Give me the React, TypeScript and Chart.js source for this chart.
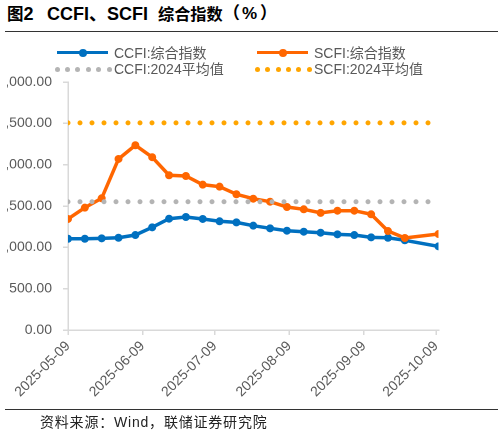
import React, { useEffect, useRef } from "react";
import { Chart, registerables } from "chart.js";

Chart.register(...registerables);

// ---------- data ----------
const dates = [
  "2025-05-09", "2025-05-16", "2025-05-23", "2025-05-30", "2025-06-06", "2025-06-13",
  "2025-06-20", "2025-06-27", "2025-07-04", "2025-07-11", "2025-07-18", "2025-07-25",
  "2025-08-01", "2025-08-08", "2025-08-15", "2025-08-22", "2025-08-29", "2025-09-05",
  "2025-09-12", "2025-09-19", "2025-09-26", "2025-10-10",
];
const ccfiValues = [
  1104, 1104, 1109, 1116, 1149, 1242, 1346, 1367, 1343, 1315, 1302, 1262,
  1230, 1201, 1189, 1177, 1157, 1149, 1121, 1116, 1085, 1012,
];
const scfiValues = [
  1343, 1480, 1593, 2069, 2235, 2090, 1872, 1863, 1758, 1734, 1642, 1588,
  1552, 1488, 1460, 1417, 1443, 1443, 1400, 1197, 1113, 1161,
];
const ccfiAvg2024 = 1551;
const scfiAvg2024 = 2506;
const xTickDates = ["2025-05-09", "2025-06-09", "2025-07-09", "2025-08-09", "2025-09-09", "2025-10-09"];
const yMin = 0;
const yMax = 3000;
const yStep = 500;
const seriesNames = ["CCFI:综合指数", "SCFI:综合指数", "CCFI:2024平均值", "SCFI:2024平均值"];
const titleParts = ["图", "2", "CCFI、SCFI", "综合指数", "（", "%", "）"];
const sourceText = "资料来源：Wind，联储证券研究院";

// ---------- styles ----------
const BLUE = "#0070C0";
const ORANGE = "#FF6600";
const GRAY_DOT = "#B4B4B4";
const ORANGE_DOT = "#FFA500";
const AXIS = "#D9D9D9";
const TEXT = "#595959";
const FONT = "'Liberation Sans', Arial, 'Noto Sans CJK SC', sans-serif";

const DAY_MS = 86400000;
function dayIndex(s: string): number {
  const [y, m, d] = s.split("-").map(Number);
  const [y0, m0, d0] = dates[0].split("-").map(Number);
  return Math.round((Date.UTC(y, m - 1, d) - Date.UTC(y0, m0 - 1, d0)) / DAY_MS);
}
const xMax = dayIndex(dates[dates.length - 1]);

function LegendLine({ color, left, top }: { color: string; left: number; top: number }) {
  return (
    <div style={{ position: "absolute", left, top: top - 1.75, width: 51, height: 3.5, background: color }}>
      <div
        style={{
          position: "absolute",
          left: 25.5 - 4,
          top: 1.75 - 4,
          width: 8,
          height: 8,
          borderRadius: 4,
          background: color,
        }}
      />
    </div>
  );
}

function LegendDots({ color, left, top }: { color: string; left: number; top: number }) {
  const dots = [0, 1, 2, 3, 4, 5];
  return (
    <div style={{ position: "absolute", left, top }}>
      {dots.map((i) => (
        <div
          key={i}
          style={{
            position: "absolute",
            left: i * 10.4 - 2.5,
            top: -2.5,
            width: 5,
            height: 5,
            borderRadius: 2.5,
            background: color,
          }}
        />
      ))}
    </div>
  );
}

function LegendText({ text, left, top }: { text: string; left: number; top: number }) {
  return (
    <div
      style={{
        position: "absolute",
        left,
        top: top - 9,
        height: 18,
        lineHeight: "18px",
        fontSize: 14,
        color: TEXT,
        whiteSpace: "nowrap",
        fontFamily: FONT,
      }}
    >
      {text}
    </div>
  );
}

function Part({ text, left, size }: { text: string; left: number; size: number }) {
  return (
    <span style={{ position: "absolute", left, bottom: 0, fontSize: size, lineHeight: "22px", whiteSpace: "pre" }}>
      {text}
    </span>
  );
}

export default function App() {
  const canvasRef = useRef<HTMLCanvasElement | null>(null);

  useEffect(() => {
    const canvas = canvasRef.current;
    if (!canvas) return;
    const x0 = dayIndex(dates[0]);
    const chart = new Chart(canvas, {
      type: "line",
      data: {
        datasets: [
          {
            label: seriesNames[0],
            data: dates.map((d, i) => ({ x: dayIndex(d), y: ccfiValues[i] })),
            borderColor: BLUE,
            backgroundColor: BLUE,
            borderWidth: 3.5,
            pointRadius: 4,
            pointHoverRadius: 4,
            pointBorderWidth: 0,
            tension: 0,
            order: 4,
          },
          {
            label: seriesNames[1],
            data: dates.map((d, i) => ({ x: dayIndex(d), y: scfiValues[i] })),
            borderColor: ORANGE,
            backgroundColor: ORANGE,
            borderWidth: 3.5,
            pointRadius: 4,
            pointHoverRadius: 4,
            pointBorderWidth: 0,
            tension: 0,
            order: 3,
          },
          {
            label: seriesNames[2],
            data: [
              { x: x0, y: ccfiAvg2024 },
              { x: xMax, y: ccfiAvg2024 },
            ],
            borderColor: GRAY_DOT,
            borderWidth: 5,
            borderDash: [0, 12],
            borderCapStyle: "round",
            pointRadius: 0,
            order: 2,
          },
          {
            label: seriesNames[3],
            data: [
              { x: x0, y: scfiAvg2024 },
              { x: xMax, y: scfiAvg2024 },
            ],
            borderColor: ORANGE_DOT,
            borderWidth: 5,
            borderDash: [0, 12],
            borderCapStyle: "round",
            pointRadius: 0,
            order: 1,
          },
        ],
      },
      options: {
        responsive: false,
        animation: false,
        devicePixelRatio: 2,
        layout: { padding: { top: 82, right: 65.5, bottom: 0, left: 0 } },
        plugins: {
          legend: { display: false },
          tooltip: { enabled: false },
          title: { display: false },
        },
        scales: {
          x: {
            type: "linear",
            min: x0,
            max: xMax,
            afterBuildTicks: (scale: any) => {
              scale.ticks = xTickDates.map((d) => ({ value: dayIndex(d) }));
            },
            afterFit: (scale: any) => {
              scale.height = 104;
            },
            ticks: {
              autoSkip: false,
              maxRotation: 45,
              minRotation: 45,
              padding: 3,
              color: TEXT,
              font: { size: 14, family: FONT },
              callback: (v: any) => {
                const idx = xTickDates.findIndex((d) => dayIndex(d) === v);
                return idx >= 0 ? xTickDates[idx] : "";
              },
            },
            grid: {
              drawOnChartArea: false,
              drawTicks: true,
              tickLength: 5,
              color: AXIS,
              lineWidth: 1.5,
            },
            border: { color: AXIS, width: 1.5 },
          },
          y: {
            min: yMin,
            max: yMax,
            afterFit: (scale: any) => {
              scale.width = 68;
            },
            ticks: {
              stepSize: yStep,
              padding: 11,
              color: TEXT,
              font: { size: 14, family: FONT },
              callback: (v: any) =>
                Number(v).toLocaleString("en-US", { minimumFractionDigits: 2, maximumFractionDigits: 2 }),
            },
            grid: {
              drawOnChartArea: false,
              drawTicks: true,
              tickLength: 5,
              color: AXIS,
              lineWidth: 1.5,
            },
            border: { color: AXIS, width: 1.5 },
          },
        },
      },
    } as any);
    return () => chart.destroy();
  }, []);

  return (
    <div
      style={{
        position: "fixed",
        left: 0,
        top: 0,
        width: 504,
        height: 434,
        background: "#fff",
        overflow: "hidden",
        fontFamily: FONT,
      }}
    >
      <div
        style={{
          position: "absolute",
          left: 0,
          top: 3,
          width: 504,
          height: 22,
          fontWeight: "bold",
          color: "#000",
        }}
      >
        <Part text={titleParts[0]} left={7} size={16.5} />
        <Part text={titleParts[1]} left={23.5} size={18} />
        <Part text={titleParts[2]} left={47} size={18} />
        <Part text={titleParts[3]} left={158} size={16.2} />
        <Part text={titleParts[4]} left={223} size={17} />
        <Part text={titleParts[5]} left={242} size={17} />
        <Part text={titleParts[6]} left={260} size={17} />
      </div>
      <div style={{ position: "absolute", left: 5, top: 31, width: 493, height: 1.2, background: "#333" }} />

      <div style={{ position: "absolute", left: 7, top: 0, width: 497, height: 434, overflow: "hidden" }}>
        <canvas
          ref={canvasRef}
          width={504}
          height={434}
          style={{ position: "absolute", left: -7, top: 0, width: 504, height: 434 }}
        />
      </div>

      <LegendLine color={BLUE} left={57} top={52.7} />
      <LegendText text={seriesNames[0]} left={114} top={52.7} />
      <LegendLine color={ORANGE} left={257} top={52.7} />
      <LegendText text={seriesNames[1]} left={314} top={52.7} />
      <LegendDots color={GRAY_DOT} left={57} top={69.3} />
      <LegendText text={seriesNames[2]} left={114} top={69.3} />
      <LegendDots color={ORANGE_DOT} left={257.3} top={69.3} />
      <LegendText text={seriesNames[3]} left={314} top={69.3} />

      <div style={{ position: "absolute", left: 5, top: 409, width: 493, height: 1.2, background: "#333" }} />
      <div
        style={{
          position: "absolute",
          left: 40,
          top: 413,
          fontSize: 14,
          lineHeight: "18px",
          letterSpacing: 0.8,
          color: "#222",
          whiteSpace: "nowrap",
        }}
      >
        {sourceText}
      </div>
    </div>
  );
}
